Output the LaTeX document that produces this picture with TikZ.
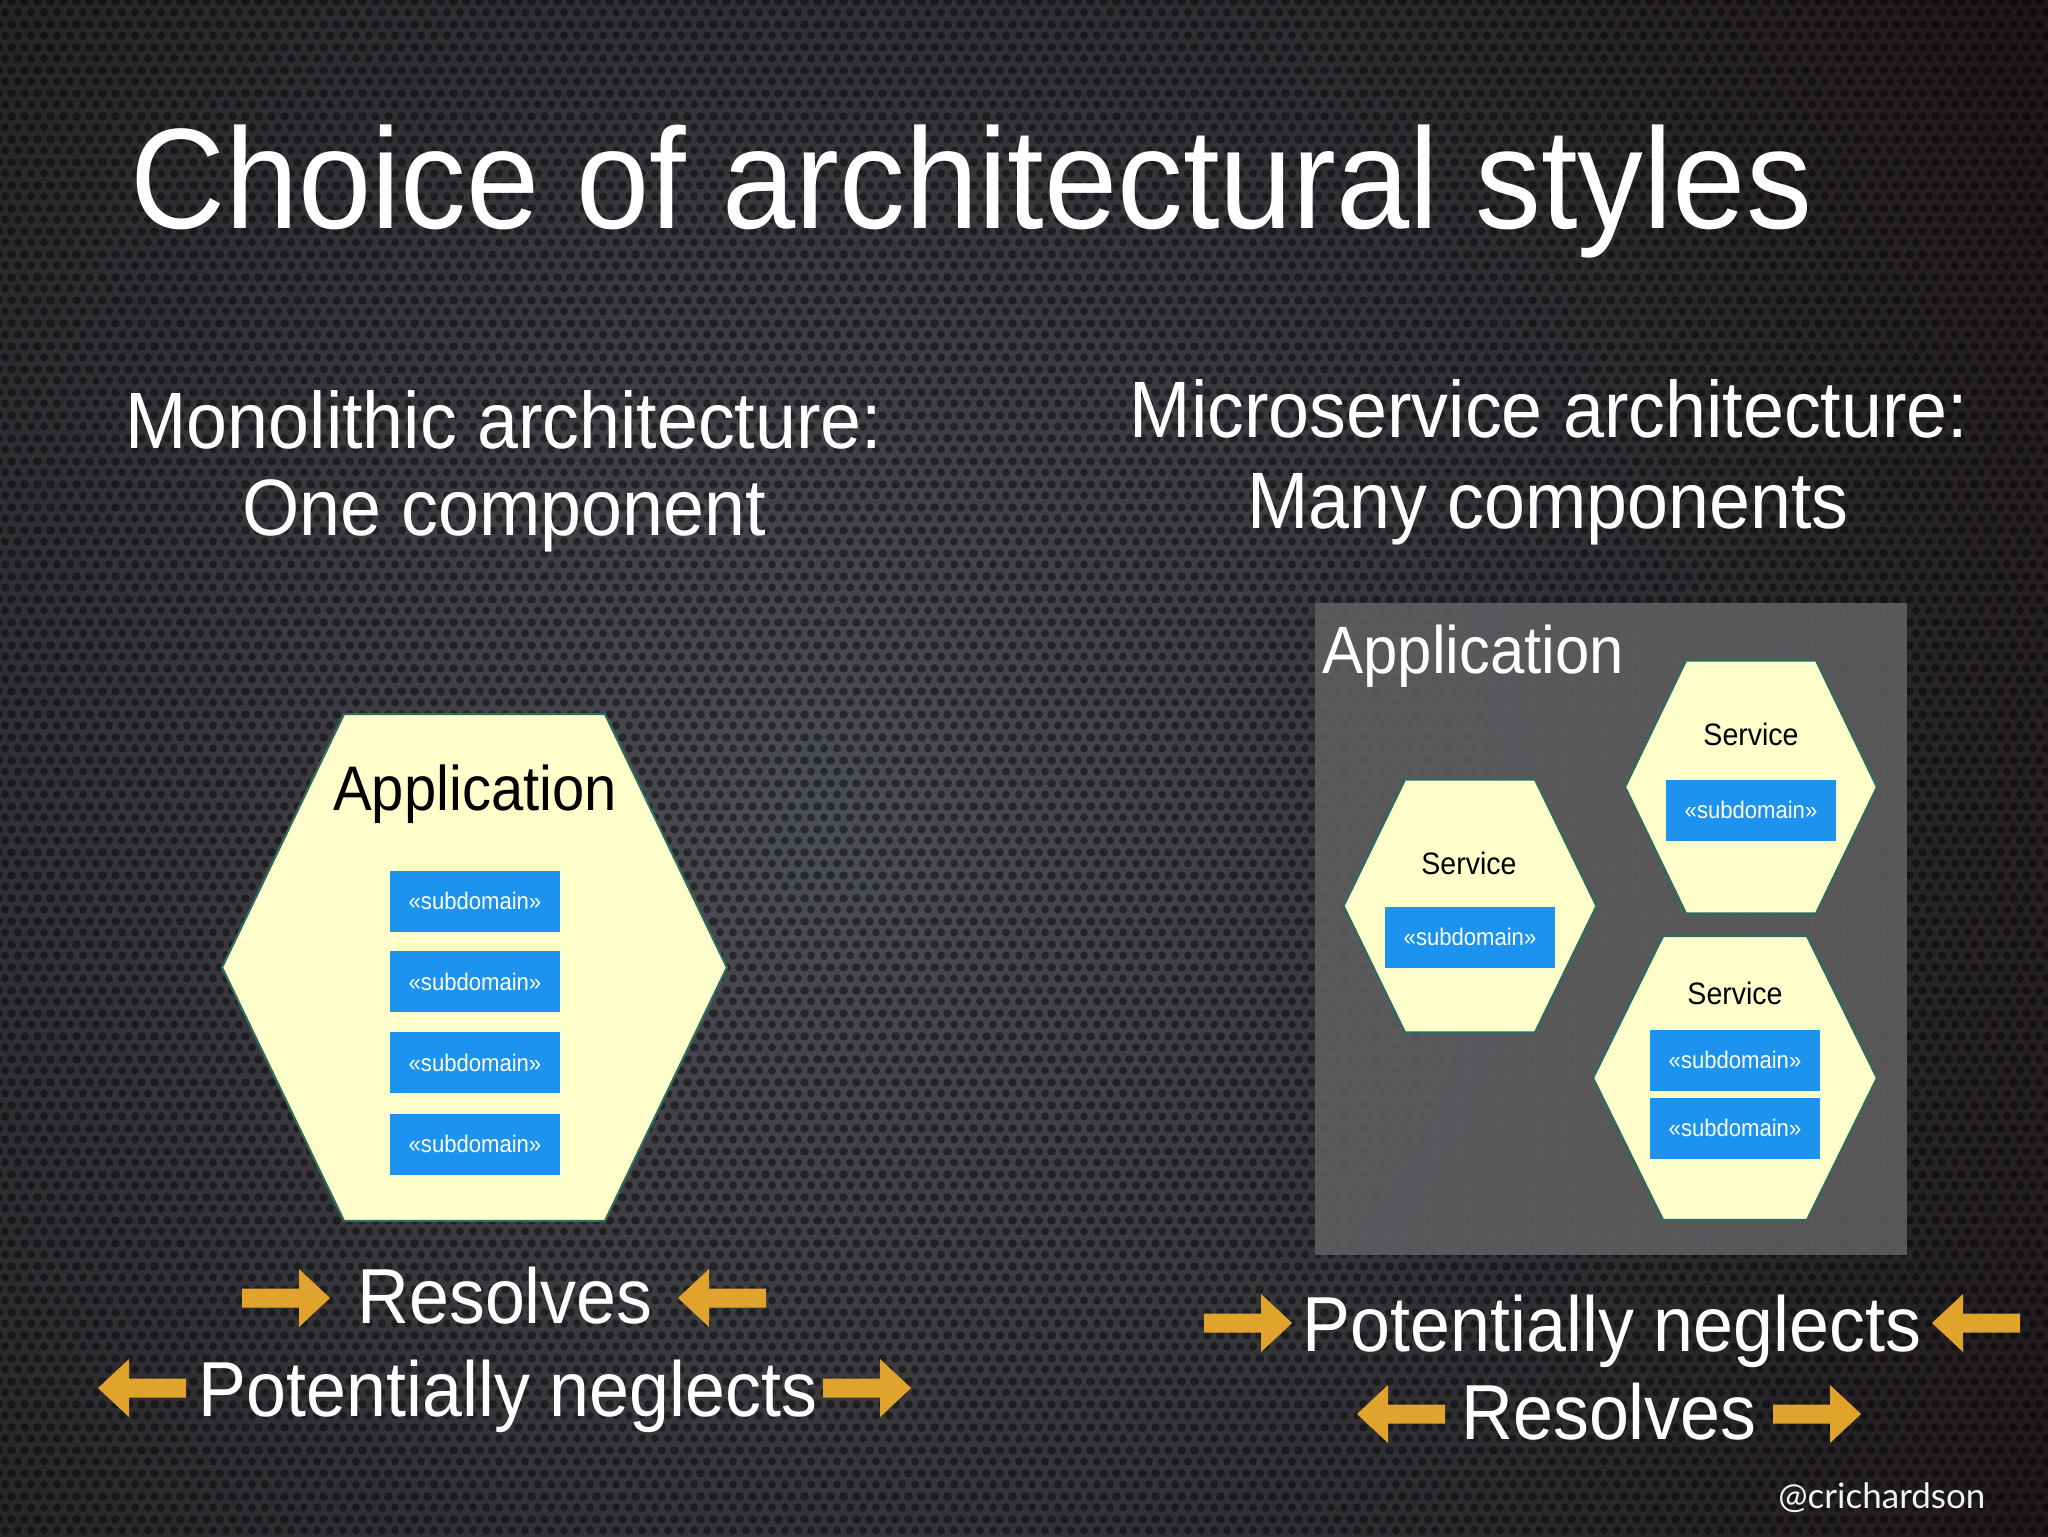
\documentclass[tikz,border=0pt]{standalone}
\usepackage{fontspec}
\setmainfont[FakeStretch=0.92]{Liberation Sans}
\newfontfamily\handlefont{Lato}
\usetikzlibrary{patterns}
\definecolor{bgdark}{HTML}{140E0F}
\definecolor{bglight}{HTML}{4C4E55}
\definecolor{hexfill}{HTML}{FDFEC9}
\definecolor{hexline}{HTML}{2E6B5C}
\definecolor{subblue}{HTML}{1D93F0}
\definecolor{arrorange}{HTML}{E0A32C}
\definecolor{panelgray}{HTML}{5E5D60}
\pgfdeclarepatternformonly{holes}{\pgfpointorigin}{\pgfpoint{6.5pt}{11.26pt}}{\pgfpoint{6.5pt}{11.26pt}}{%
  \pgfpathcircle{\pgfpoint{3.25pt}{2.815pt}}{2.1pt}
  \pgfpathcircle{\pgfpoint{0pt}{8.445pt}}{2.1pt}
  \pgfpathcircle{\pgfpoint{6.5pt}{8.445pt}}{2.1pt}
  \pgfusepath{fill}}
\tikzset{
  hexstyle/.style={fill=hexfill, draw=hexline, line width=1.1pt, line join=miter},
  subbox/.style={fill=subblue, text=white, minimum width=85pt, minimum height=30.5pt, inner sep=0pt, font=\fontsize{12}{14}\selectfont},
  txt/.style={inner sep=0pt, anchor=base},
  heading/.style={txt, text=white, font=\fontsize{40}{46}\selectfont},
  bottomtxt/.style={txt, text=white, font=\fontsize{39}{45}\selectfont},
  servicetxt/.style={txt, text=black, font=\fontsize{15.5}{18}\selectfont},
  rarr/.pic={\fill[arrorange] (0,-9.5) -- (57,-9.5) -- (57,-29) -- (88,0) -- (57,29) -- (57,9.5) -- (0,9.5) -- cycle;},
  larr/.pic={\fill[arrorange] (0,0) -- (31,29) -- (31,9.5) -- (88,9.5) -- (88,-9.5) -- (31,-9.5) -- (31,-29) -- cycle;}
}
\newcommand{\hexat}[6]{% name, cx, cy, half-width, half-height, top half-width
  \coordinate (#1) at (#2,#3);
  \draw[hexstyle] ([shift={(-#4,0)}]#1) -- ([shift={(-#6,-#5)}]#1) -- ([shift={(#6,-#5)}]#1)
     -- ([shift={(#4,0)}]#1) -- ([shift={(#6,#5)}]#1) -- ([shift={(-#6,#5)}]#1) -- cycle;}
\begin{document}
\begin{tikzpicture}[x=0.5pt, y=-0.5pt]
\useasboundingbox (0,0) rectangle (2048,1536);
% background
\fill[bgdark] (0,0) rectangle (2048,1536);
\begin{scope}
  \clip (0,0) rectangle (2048,1536);
  \shade[inner color=bglight, outer color=bgdark] (820,820) circle (1700);
\end{scope}
\fill[pattern=holes, pattern color=black, fill opacity=0.45] (0,0) rectangle (2048,1536);

% title and headings
\node[inner sep=0pt, anchor=base west, text=white, font=\fontsize{71.5}{80}\selectfont] (title) at (130,228) {Choice of architectural styles};
\node[heading] (monoA) at (504,448) {Monolithic architecture:};
\node[heading] (monoB) at (504,535) {One component};
\node[heading] (microA) at (1549,437) {Microservice architecture:};
\node[heading] (microB) at (1548,528) {Many components};

% monolith
\hexat{hexL}{474.5}{967.5}{252.5}{253.5}{130.5}
\node[txt, text=black, font=\fontsize{31.5}{36}\selectfont] (appL) at (475,810) {Application};
\node[subbox] (sdL1) at (475,901) {«subdomain»};
\node[subbox] (sdL2) at (475,981.5) {«subdomain»};
\node[subbox] (sdL3) at (475,1062.5) {«subdomain»};
\node[subbox] (sdL4) at (475,1144) {«subdomain»};

% microservices panel
\fill[panelgray, fill opacity=0.9] (1315,603) rectangle (1907,1255);
\node[inner sep=0pt, anchor=base west, text=white, font=\fontsize{33.5}{38}\selectfont] (appR) at (1322,673) {Application};
\hexat{hexA}{1751}{787}{126}{126.5}{65}
\hexat{hexB}{1470}{906}{126.5}{126.5}{65}
\hexat{hexC}{1735}{1078}{142}{142}{72}
\node[servicetxt] (svA) at (1751,745) {Service};
\node[servicetxt] (svB) at (1469,874) {Service};
\node[servicetxt] (svC) at (1735,1004) {Service};
\node[subbox] (sdA) at (1751,810) {«subdomain»};
\node[subbox] (sdB) at (1470,937) {«subdomain»};
\node[subbox] (sdC1) at (1735,1060) {«subdomain»};
\node[subbox] (sdC2) at (1735,1128) {«subdomain»};

% bottom labels left
\node[bottomtxt] (resL) at (505,1323) {Resolves};
\node[bottomtxt] (negL) at (508,1416) {Potentially neglects};
\pic at (242,1298) {rarr};
\pic at (678,1298) {larr};
\pic at (98,1388) {larr};
\pic at (823,1388) {rarr};

% bottom labels right
\node[bottomtxt] (negR) at (1612,1351) {Potentially neglects};
\node[bottomtxt] (resR) at (1609,1439) {Resolves};
\pic at (1204,1323) {rarr};
\pic at (1932,1323) {larr};
\pic at (1357,1414) {larr};
\pic at (1773,1414) {rarr};

% handle
\node[inner sep=0pt, anchor=base west, text=white!90!gray, font=\handlefont\fontsize{17.5}{20}\selectfont] (handle) at (1778,1508) {@crichardson};
\end{tikzpicture}
\end{document}
